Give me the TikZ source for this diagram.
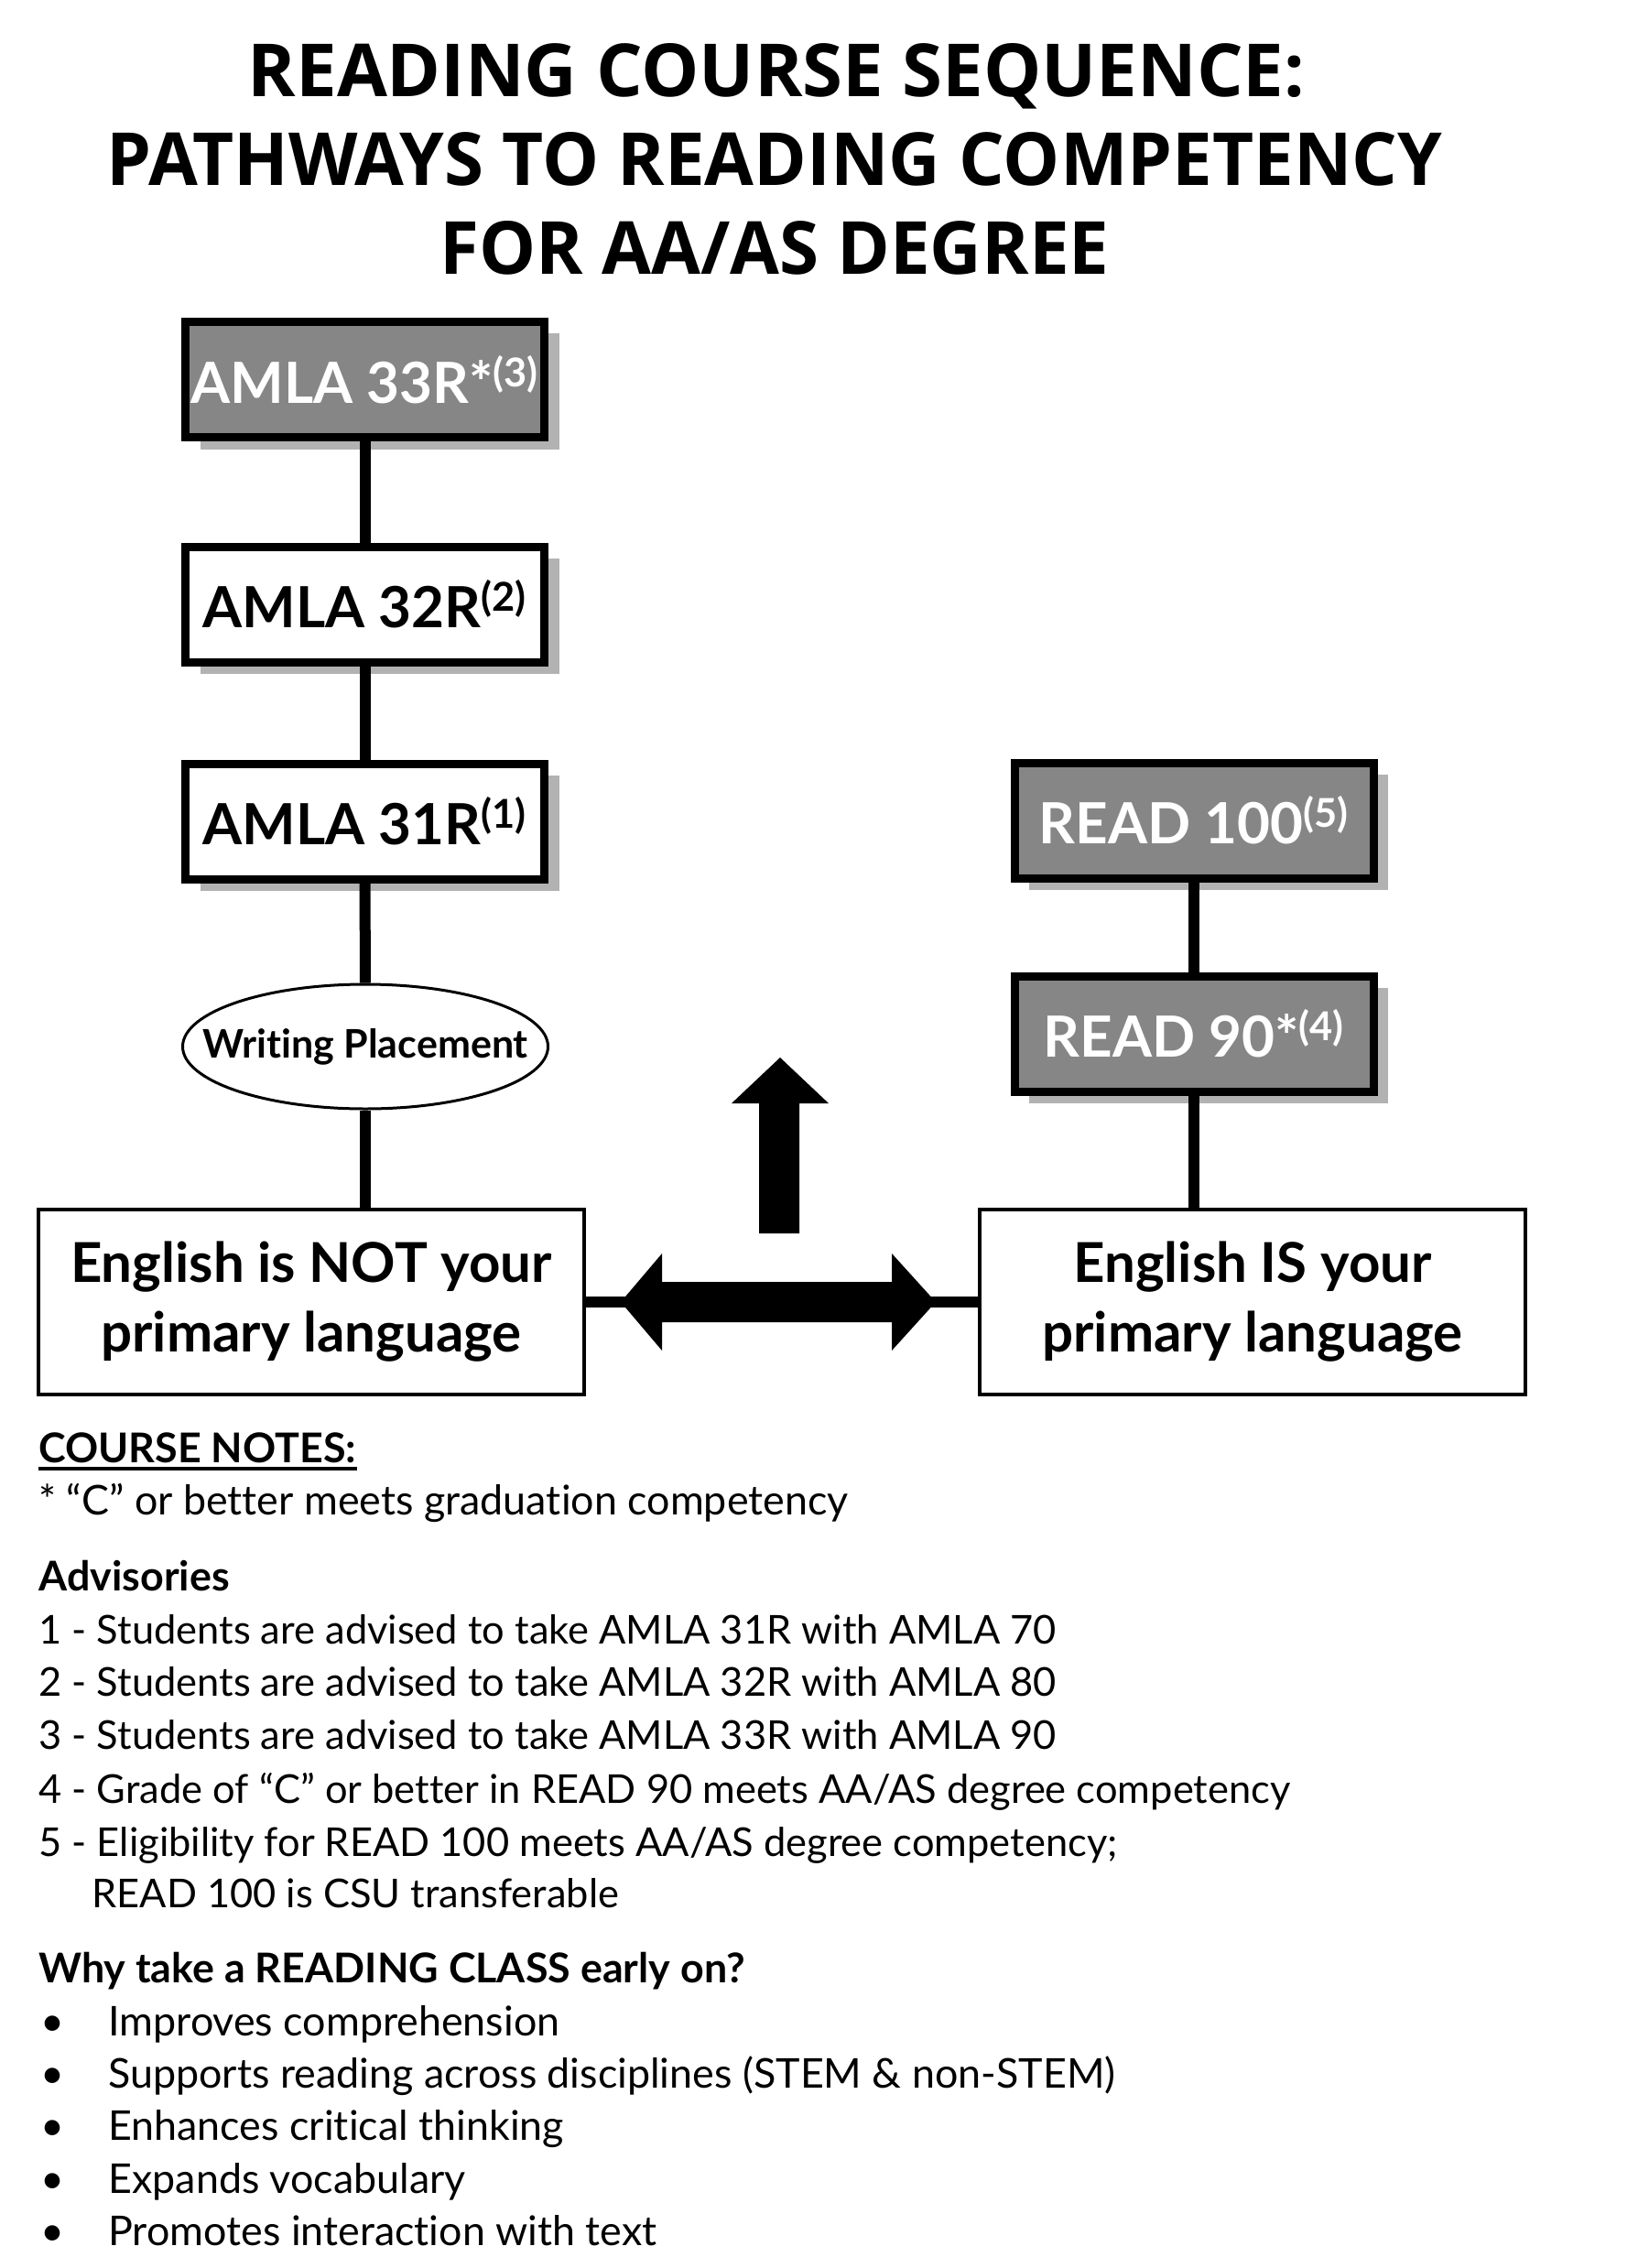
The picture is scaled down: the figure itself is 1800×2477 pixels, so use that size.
\documentclass[tikz,border=0pt]{standalone}
\usepackage{fontspec}
\setmainfont{Lato}[Ligatures=NoCommon]
\newfontfamily\titlefont{Open Sans}
\usetikzlibrary{shapes.geometric,shadows}
\definecolor{boxgrey}{RGB}{134,134,134}
\definecolor{shadowgrey}{RGB}{178,178,178}
\begin{document}
\begin{tikzpicture}[x=0.5pt,y=-0.5pt,
  course/.style={draw=black, line width=4.5pt, minimum width=196pt, minimum height=63pt,
    inner sep=0pt, font=\fontsize{31}{36}\selectfont\bfseries,
    drop shadow={shadow xshift=8pt, shadow yshift=-6.5pt, fill=shadowgrey, opacity=1}},
  dark/.style={course, fill=boxgrey, text=white},
  light/.style={course, fill=white, text=black},
  conn/.style={line width=6pt},
  lang/.style={draw=black, line width=2pt, fill=white, minimum width=298pt, minimum height=101pt,
    align=center, inner sep=0pt, font=\fontsize{30}{38}\selectfont\bfseries},
  oval/.style={draw=black, ellipse, line width=1.5pt, fill=white, minimum width=199.5pt,
    minimum height=68pt, inner sep=0pt, font=\fontsize{21.5}{24}\selectfont\bfseries},
  title/.style={anchor=base, inner sep=0pt},
  body/.style={anchor=base west, inner sep=0pt, font=\fontsize{22.4}{26}\selectfont},
  bodyn/.style={anchor=base west, inner sep=0pt, font=\fontsize{21.7}{26}\selectfont},
  bodyb/.style={body, font=\fontsize{22.4}{26}\selectfont\bfseries},
]
\useasboundingbox (0,0) rectangle (1800,2477);
\fill[white] (0,0) rectangle (1800,2477);

% title
\node[title] (t1) at (848,106) {\resizebox{577pt}{29pt}{\titlefont\bfseries READING COURSE SEQUENCE:}};
\node[title] (t2) at (846,203) {\resizebox{729pt}{29pt}{\titlefont\bfseries PATHWAYS TO READING COMPETENCY}};
\node[title] (t3) at (846,300) {\resizebox{365.5pt}{29pt}{\titlefont\bfseries FOR AA/AS DEGREE}};

% course boxes
\node[dark]  (a33) at (398.5,414.5) {AMLA 33R*\textsuperscript{(3)}};
\node[light] (a32) at (398.5,660) {AMLA 32R\textsuperscript{(2)}};
\node[light] (a31) at (398.5,897) {AMLA 31R\textsuperscript{(1)}};
\node[oval]  (wp)  at (399,1143) {\makebox[0pt]{Writing Placement}};
\node[dark]  (r100) at (1304,896) {READ 100\textsuperscript{(5)}};
\node[dark]  (r90)  at (1304,1129) {READ 90*\textsuperscript{(4)}};
\node[lang]  (notl) at (340,1421.5) {English is NOT your\\primary language};
\node[lang]  (isl)  at (1368,1421.5) {English IS your\\primary language};

% connectors
\draw[conn] (a33) -- (a32);
\draw[conn] (a32) -- (a31);
\draw[conn] (a31) -- (wp);
\draw[conn] (wp.south) -- (wp.south |- notl.north);
\draw[conn] (r100) -- (r90);
\draw[conn] (r90.south) -- (r90.south |- isl.north);
\draw[conn] (notl.east) -- (isl.west);

% block arrows
\fill[black] (678,1422) -- (723,1369) -- (723,1400) -- (974,1400) -- (974,1369) -- (1022,1422)
  -- (974,1475) -- (974,1444) -- (723,1444) -- (723,1475) -- cycle;
\fill[black] (852,1155) -- (905,1205) -- (873,1205) -- (873,1347) -- (829,1347) -- (829,1205)
  -- (799,1205) -- cycle;

% notes
\node[bodyb] (cn) at (42,1597) {COURSE NOTES:};
\draw[line width=2pt] ([yshift=-3.5pt]cn.base west) -- ([yshift=-3.5pt]cn.base east);
\node[body] (n0) at (42,1654) {* “C” or better meets graduation competency};
\node[bodyb] (adv) at (42,1737) {Advisories};
\node[bodyn] (n1) at (42,1795) {1 - Students are advised to take AMLA 31R with AMLA 70};
\node[bodyn] (n2) at (42,1852) {2 - Students are advised to take AMLA 32R with AMLA 80};
\node[bodyn] (n3) at (42,1910) {3 - Students are advised to take AMLA 33R with AMLA 90};
\node[bodyn] (n4) at (42,1969) {4 - Grade of “C” or better in READ 90 meets AA/AS degree competency};
\node[bodyn] (n5) at (42,2027) {5 - Eligibility for READ 100 meets AA/AS degree competency;};
\node[bodyn] (n6) at (100,2083) {READ 100 is CSU transferable};
\node[bodyb] (why) at (42,2165) {Why take a READING CLASS early on?};
\foreach \y/\t [count=\i] in {2223/Improves comprehension,
    2280/Supports reading across disciplines (STEM \& non-STEM),
    2337/Enhances critical thinking,
    2395/Expands vocabulary,
    2452/Promotes interaction with text}{
  \node[body] (bul\i) at (44,\y) {•};
  \node[body] (b\i) at (118,\y) {\t};
}
\end{tikzpicture}
\end{document}
